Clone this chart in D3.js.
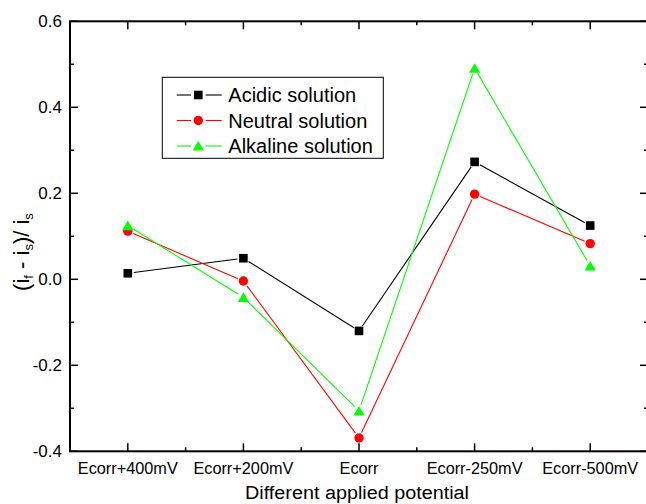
<!DOCTYPE html>
<html><head><meta charset="utf-8">
<script src="https://cdn.jsdelivr.net/npm/d3@7"></script>
<style>body{margin:0;background:#fff}svg{display:block;font-family:"Liberation Sans",Arial,sans-serif}</style>
</head><body><svg id="c" width="646" height="504"></svg>
<script>
const categories = ["Ecorr+400mV","Ecorr+200mV","Ecorr","Ecorr-250mV","Ecorr-500mV"];
const acidic   = [0.014, 0.049, -0.120, 0.273, 0.125];
const neutral  = [0.112, -0.004, -0.369, 0.198, 0.083];
const alkaline = [0.125, -0.042, -0.306, 0.491, 0.031];
const seriesNames = ["Acidic solution","Neutral solution","Alkaline solution"];
const yTicks = [-0.4,-0.2,0.0,0.2,0.4,0.6];
const yMinor = [-0.3,-0.1,0.1,0.3,0.5];

const svg = d3.select("#c");
const L=70, R=648, T=21.3, B=451.3;
const x = d3.scaleLinear().domain([0.5,5.5]).range([L,R]);
const y = d3.scaleLinear().domain([-0.4,0.6]).range([B,T]);
const xIdx = categories.map((_,i)=>i+1);
const xMinor = [1.5,2.5,3.5,4.5];

const series = [
 {name:seriesNames[0], vals:acidic, color:"#000000", shape:"square"},
 {name:seriesNames[1], vals:neutral, color:"#ff0000", shape:"circle"},
 {name:seriesNames[2], vals:alkaline, color:"#00ff00", shape:"triangle"}
];

function marker(g, shape, cx, cy, color){
  if(shape==="square") g.append("rect").attr("x",cx-4.3).attr("y",cy-4.3).attr("width",8.6).attr("height",8.6).attr("fill",color);
  else if(shape==="circle") g.append("circle").attr("cx",cx).attr("cy",cy).attr("r",4.7).attr("fill",color);
  else g.append("path").attr("d",`M${cx},${cy-5}L${cx+5.6},${cy+4.6}L${cx-5.6},${cy+4.6}Z`).attr("fill",color);
}

// data lines with gaps around markers
const gap = 6;
series.forEach(s=>{
  const g = svg.append("g");
  for(let i=0;i<s.vals.length-1;i++){
    const x1=x(xIdx[i]), y1=y(s.vals[i]), x2=x(xIdx[i+1]), y2=y(s.vals[i+1]);
    const d=Math.hypot(x2-x1,y2-y1), ux=(x2-x1)/d, uy=(y2-y1)/d;
    g.append("line").attr("x1",x1+ux*gap).attr("y1",y1+uy*gap).attr("x2",x2-ux*gap).attr("y2",y2-uy*gap)
     .attr("stroke",s.color).attr("stroke-width",1.1);
  }
  s.vals.forEach((v,i)=>marker(g,s.shape,x(xIdx[i]),y(v),s.color));
});

// axes
const ax = svg.append("g").attr("stroke","#000").attr("stroke-width",2).attr("fill","none");
ax.append("rect").attr("x",L).attr("y",T).attr("width",R-L).attr("height",B-T);
xIdx.forEach(v=>{
  ax.append("line").attr("x1",x(v)).attr("x2",x(v)).attr("y1",B).attr("y2",B-8).attr("stroke-width",1.5);
  ax.append("line").attr("x1",x(v)).attr("x2",x(v)).attr("y1",T).attr("y2",T+8).attr("stroke-width",1.5);
});
xMinor.forEach(v=>{
  ax.append("line").attr("x1",x(v)).attr("x2",x(v)).attr("y1",B).attr("y2",B-4).attr("stroke-width",1.5);
  ax.append("line").attr("x1",x(v)).attr("x2",x(v)).attr("y1",T).attr("y2",T+4).attr("stroke-width",1.5);
});
yTicks.forEach(v=>{
  ax.append("line").attr("x1",L).attr("x2",L+8).attr("y1",y(v)).attr("y2",y(v)).attr("stroke-width",1.5);
  ax.append("line").attr("x1",R).attr("x2",R-8).attr("y1",y(v)).attr("y2",y(v)).attr("stroke-width",1.5);
});
yMinor.forEach(v=>{
  ax.append("line").attr("x1",L).attr("x2",L+4).attr("y1",y(v)).attr("y2",y(v)).attr("stroke-width",1.5);
  ax.append("line").attr("x1",R).attr("x2",R-4).attr("y1",y(v)).attr("y2",y(v)).attr("stroke-width",1.5);
});

// tick labels
svg.append("g").selectAll("text").data(categories).join("text")
  .attr("x",(d,i)=>x(xIdx[i])).attr("y",474.3).attr("text-anchor","middle")
  .attr("font-size",16.3).attr("fill","#000").text(d=>d);
svg.append("g").selectAll("text").data(yTicks).join("text")
  .attr("x",62).attr("y",d=>y(d)).attr("dy","0.36em").attr("text-anchor","end")
  .attr("font-size",17).attr("fill","#000").text(d=>d3.format(".1f")(d).replace("\u2212","-"));

// axis titles
svg.append("text").attr("x",357).attr("y",499.3).attr("text-anchor","middle")
  .attr("font-size",18).attr("textLength",224).attr("lengthAdjust","spacingAndGlyphs")
  .attr("fill","#000").text("Different applied potential");
const yl = svg.append("text").attr("transform","translate(29,252) rotate(-90)")
  .attr("text-anchor","middle").attr("font-size",22).attr("fill","#000");
yl.append("tspan").text("(i");
yl.append("tspan").attr("font-size",13).attr("dy",4).text("f");
yl.append("tspan").attr("dy",-4).text(" - i");
yl.append("tspan").attr("font-size",13).attr("dy",4).text("s");
yl.append("tspan").attr("dy",-4).text(")/ i");
yl.append("tspan").attr("font-size",13).attr("dy",4).text("s");

// legend
const lg = svg.append("g");
lg.append("rect").attr("x",162.3).attr("y",77.3).attr("width",221).attr("height",81)
  .attr("fill","#fff").attr("stroke","#000").attr("stroke-width",1);
series.forEach((s,i)=>{
  const cy = 95 + i*25.5;
  lg.append("line").attr("x1",176.7).attr("x2",191).attr("y1",cy).attr("y2",cy).attr("stroke",s.color).attr("stroke-width",1.1);
  lg.append("line").attr("x1",205.6).attr("x2",221.7).attr("y1",cy).attr("y2",cy).attr("stroke",s.color).attr("stroke-width",1.1);
  marker(lg,s.shape,198.3,cy,s.color);
  lg.append("text").attr("x",228.3).attr("y",cy).attr("dy","0.36em").attr("font-size",20).attr("fill","#000").text(s.name);
});
</script></body></html>
